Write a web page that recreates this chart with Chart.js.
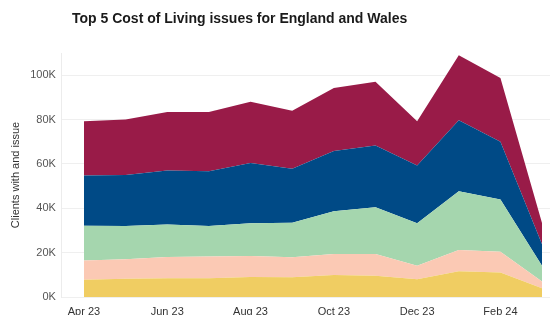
<!DOCTYPE html>
<html>
<head>
<meta charset="utf-8">
<script src="https://cdn.jsdelivr.net/npm/chart.js@4/dist/chart.umd.min.js"></script>
<style>
  html, body { margin: 0; padding: 0; background: #fff; overflow: hidden; }
  #wrap { position: relative; width: 553px; height: 315px; overflow: hidden; }
  #title {
    position: absolute; left: 72px; top: 11px;
    font: bold 14px "Liberation Sans", Arial, sans-serif;
    line-height: 14px; color: #1a1a1a; white-space: nowrap;
  }
  canvas { position: absolute; left: 0; top: 0; }
</style>
</head>
<body>
<div id="wrap">
  <canvas id="chart" width="553" height="315"></canvas>
  <div id="title">Top 5 Cost of Living issues for England and Wales</div>
</div>
<script>
// ── Data ──
const months = ["Apr 23", "May 23", "Jun 23", "Jul 23", "Aug 23", "Sep 23",
                "Oct 23", "Nov 23", "Dec 23", "Jan 24", "Feb 24", "Mar 24"];
const tickMonths = [0, 2, 4, 6, 8, 10];
const yTicks = [0, 20000, 40000, 60000, 80000, 100000];

// bottom to top
const issueA = [7800, 8200, 8400, 8500, 9000, 8900, 9900, 9600, 8000, 11600, 11000, 3900];
const issueB = [8600, 8800, 9600, 9800, 9500, 9000, 9500, 9800, 6100, 9600, 9400, 3100];
const issueC = [15700, 15000, 14700, 13700, 14800, 15600, 19300, 21100, 19100, 26500, 23600, 7000];
const issueD = [22700, 23000, 24300, 24700, 27100, 24300, 27100, 27800, 26100, 32000, 26000, 9700];
const issueE = [24400, 25000, 26400, 26700, 27600, 26200, 28400, 28700, 19900, 29300, 28700, 9500];

const series = [
  { name: "Issue A", values: issueA, color: "#F0CD62" },
  { name: "Issue B", values: issueB, color: "#FBC9B4" },
  { name: "Issue C", values: issueC, color: "#A5D6AE" },
  { name: "Issue D", values: issueD, color: "#004A86" },
  { name: "Issue E", values: issueE, color: "#991B48" }
];

const FONT = "'Liberation Sans', Arial, sans-serif";

new Chart(document.getElementById("chart").getContext("2d"), {
  type: "line",
  data: {
    datasets: series.map((s, i) => ({
      label: s.name,
      data: s.values.map((v, k) => ({ x: k, y: v })),
      backgroundColor: s.color,
      borderColor: s.color,
      borderWidth: 0,
      pointRadius: 0,
      tension: 0,
      fill: i === 0 ? "origin" : "-1"
    }))
  },
  options: {
    responsive: false,
    animation: false,
    layout: { padding: { top: 53, right: 3, left: 9, bottom: 0 } },
    plugins: {
      legend: { display: false },
      tooltip: { enabled: false }
    },
    scales: {
      x: {
        type: "linear",
        min: -0.53,
        max: 11.19,
        afterBuildTicks: axis => { axis.ticks = tickMonths.map(v => ({ value: v })); },
        afterFit: axis => { axis.height = 18; },
        grid: { display: false },
        border: { display: false },
        ticks: {
          color: "#333",
          font: { family: FONT, size: 11 },
          padding: 0,
          maxRotation: 0,
          autoSkip: false,
          callback: v => months[v]
        }
      },
      y: {
        stacked: true,
        min: 0,
        max: 110000,
        afterBuildTicks: axis => { axis.ticks = yTicks.map(v => ({ value: v })); },
        grid: { color: "#efefef", drawTicks: false },
        border: { display: true, color: "#ececec" },
        ticks: {
          color: "#555",
          font: { family: FONT, size: 11 },
          padding: 6,
          callback: v => (v / 1000) + "K"
        },
        title: {
          display: true,
          text: "Clients with and issue",
          color: "#333",
          font: { family: FONT, size: 11 },
          padding: { top: 0, bottom: 2 }
        }
      }
    }
  }
});
</script>
</body>
</html>
